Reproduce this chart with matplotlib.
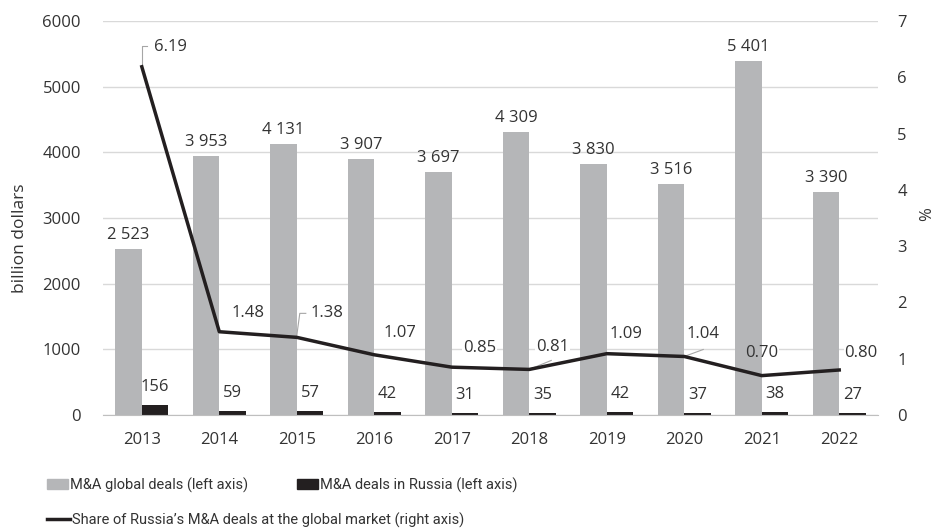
import matplotlib
matplotlib.use("Agg")
import matplotlib.pyplot as plt
import numpy as np
from matplotlib.patches import Patch
from matplotlib.lines import Line2D

plt.rcParams['font.family'] = ['Open Sans', 'DejaVu Sans']

years = ["2013", "2014", "2015", "2016", "2017", "2018", "2019", "2020", "2021", "2022"]
global_deals = [2523, 3953, 4131, 3907, 3697, 4309, 3830, 3516, 5401, 3390]
russia_deals = [156, 59, 57, 42, 31, 35, 42, 37, 38, 27]
russia_share = [6.19, 1.48, 1.38, 1.07, 0.85, 0.81, 1.09, 1.04, 0.70, 0.80]

TXT = "#333333"
GREY = "#b5b6b8"
BLACK = "#231f20"
FS = 12

fig = plt.figure(figsize=(9.37, 5.30), dpi=100)
ax = fig.add_axes([0.110, 0.217, 0.827, 0.743])
ax2 = ax.twinx()

x = np.arange(len(years))
w = 0.34
ax.bar(x - w / 2, global_deals, width=w, color=GREY, zorder=2)
ax.bar(x + w / 2, russia_deals, width=w, color=BLACK, zorder=2)

ax.set_xlim(-0.5, len(years) - 0.5)
ax.set_ylim(0, 6000)
ax.set_yticks(range(0, 6001, 1000))
ax.set_xticks(x)
ax.set_xticklabels(years)
ax.grid(axis='y', color='#d9d9d9', linewidth=1, zorder=0)
ax.set_axisbelow(True)
for s in ['top', 'right', 'left']:
    ax.spines[s].set_visible(False)
ax.spines['bottom'].set_color('#bfbfbf')
ax.tick_params(axis='both', length=0, labelsize=FS, colors=TXT)
ax.tick_params(axis='x', pad=12)
ax.tick_params(axis='y', pad=16)
ax.set_ylabel("billion dollars", fontsize=12.5, color=TXT)
ax.yaxis.set_label_coords(-0.097, 0.45)

def fmt(v):
    return f"{v:,}".replace(",", " ")

for i, v in enumerate(global_deals):
    ax.annotate(fmt(v), (x[i] - w / 2, v), xytext=(0, 6), textcoords='offset pixels',
                ha='center', va='bottom', fontsize=FS, color=TXT, zorder=5)
for i, v in enumerate(russia_deals):
    ax.annotate(fmt(v), (x[i] + w / 2, v), xytext=(0, 10), textcoords='offset pixels',
                ha='center', va='bottom', fontsize=FS, color=TXT, zorder=5)

ax2.plot(x, russia_share, color=BLACK, linewidth=2.5, zorder=3)
ax2.set_ylim(0, 7)
ax2.set_yticks(range(0, 8))
for s in ['top', 'right', 'left', 'bottom']:
    ax2.spines[s].set_visible(False)
ax2.tick_params(axis='y', length=0, labelsize=FS, colors=TXT, pad=14)
ax2.set_ylabel("%", fontsize=12, color=TXT)
ax2.yaxis.set_label_coords(1.053, 0.51)

# label offsets in pixels (dx, dy up) relative to the point
offsets = [(29, 20), (29, 19), (30, 24), (26, 22), (28, 19), (23, 22), (19, 20), (19, 22), (0, 23), (22, 17)]
leaders = {
    0: [(0, 0), (0, 21), (5, 21)],
    2: [(0, 2), (3, 24), (9, 24)],
    5: [(0, 0), (22, 9)],
    7: [(0, 0), (19, 7)],
}
for i, v in enumerate(russia_share):
    dx, dy = offsets[i]
    # white backing (hides gridlines, sits below bars)
    ax.annotate(f"{v:.2f}", (x[i], v), xycoords=ax2.transData, xytext=(dx, dy),
                textcoords='offset pixels', ha='center', va='center', fontsize=FS,
                color='white', zorder=1.5,
                bbox=dict(boxstyle='square,pad=0.05', fc='white', ec='none'))
    ax2.annotate(f"{v:.2f}", (x[i], v), xytext=(dx, dy), textcoords='offset pixels',
                 ha='center', va='center', fontsize=FS, color=TXT, zorder=4)
    if i in leaders:
        pts = ax2.transData.transform((x[i], v))
        inv = ax2.transData.inverted()
        coords = [inv.transform((pts[0] + a, pts[1] + b)) for a, b in leaders[i]]
        ax2.plot([c[0] for c in coords], [c[1] for c in coords], color='#a6a6a6',
                 linewidth=0.8, zorder=2.5)

common = dict(frameon=False, handleheight=0.7,
              handletextpad=0.1, borderpad=0, borderaxespad=0, labelcolor=TXT,
              loc='center left',
              prop={'family': ['Roboto', 'Open Sans'], 'size': 10.5})
fig.legend([Patch(color=GREY)], ["M&A global deals (left axis)"], handlelength=1.45,
           bbox_to_anchor=(47 / 937, 1 - 485 / 530), **common)
fig.legend([Patch(color=BLACK)], ["M&A deals in Russia (left axis)"], handlelength=1.45,
           bbox_to_anchor=(297 / 937, 1 - 485 / 530), **common)
fig.legend([Line2D([0], [0], color=BLACK, linewidth=2.5)],
           ["Share of Russia\u2019s M&A deals at the global market (right axis)"],
           handlelength=1.6, bbox_to_anchor=(47 / 937, 1 - 520 / 530), **common)

fig.savefig("out.png", dpi=100)
